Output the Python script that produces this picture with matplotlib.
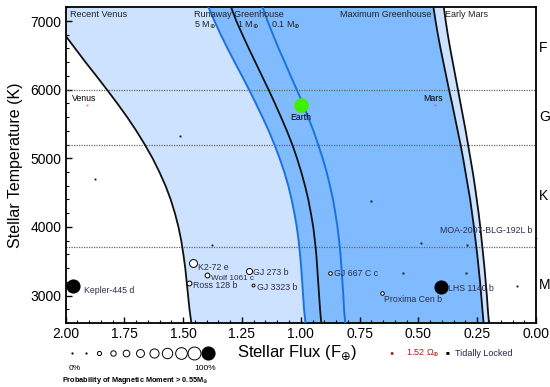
import numpy as np
import matplotlib
matplotlib.use('Agg')
import matplotlib.pyplot as plt
from matplotlib.ticker import MultipleLocator

plt.rcParams['font.family'] = ['Liberation Sans', 'DejaVu Sans']

# ---- habitable-zone boundaries: stellar flux (F_earth) vs stellar temperature (K)
temps = [2600, 2800, 3000, 3200, 3400, 3600, 3800, 4000, 4200, 4400, 4600, 4800,
         5000, 5200, 5400, 5600, 5800, 6000, 6200, 6400, 6600, 6800, 7000, 7200]
recent_venus = [1.465, 1.473, 1.479, 1.485, 1.491, 1.499, 1.508, 1.520, 1.535, 1.553, 1.575, 1.601,
                1.630, 1.663, 1.699, 1.738, 1.780, 1.824, 1.869, 1.915, 1.959, 2.003, 2.043, 2.080]
runaway_5 = [0.980, 0.986, 0.990, 0.994, 0.998, 1.003, 1.009, 1.017, 1.027, 1.039, 1.053, 1.070,
             1.090, 1.112, 1.136, 1.163, 1.191, 1.220, 1.250, 1.281, 1.311, 1.340, 1.367, 1.392]
runaway_1 = [0.913, 0.918, 0.922, 0.926, 0.930, 0.934, 0.940, 0.947, 0.957, 0.968, 0.982, 0.998,
             1.016, 1.036, 1.059, 1.084, 1.110, 1.137, 1.165, 1.193, 1.221, 1.248, 1.274, 1.296]
runaway_01 = [0.811, 0.816, 0.819, 0.823, 0.827, 0.831, 0.837, 0.844, 0.853, 0.863, 0.876, 0.890,
              0.907, 0.926, 0.946, 0.969, 0.992, 1.017, 1.043, 1.068, 1.094, 1.118, 1.141, 1.162]
max_greenhouse = [0.223, 0.228, 0.233, 0.238, 0.244, 0.250, 0.257, 0.264, 0.272, 0.280, 0.290, 0.300,
                  0.310, 0.321, 0.333, 0.345, 0.357, 0.370, 0.382, 0.394, 0.406, 0.417, 0.427, 0.436]
early_mars = [0.200, 0.205, 0.209, 0.214, 0.219, 0.225, 0.231, 0.237, 0.244, 0.252, 0.260, 0.269,
              0.279, 0.289, 0.299, 0.310, 0.321, 0.332, 0.343, 0.354, 0.365, 0.375, 0.384, 0.392]

# ---- spectral class boundaries
class_bounds = [6000, 5200, 3700]
class_names = ['F', 'G', 'K', 'M']
class_mid_T = [6600, 5600, 4450, 3150]

# ---- named exoplanets
planet_names = ['Kepler-445 d', 'K2-72 e', 'Wolf 1061 c', 'Ross 128 b', 'GJ 273 b', 'GJ 3323 b',
                'GJ 667 C c', 'Proxima Cen b', 'LHS 1140 b', 'MOA-2007-BLG-192L b']
planet_flux = [1.968, 1.459, 1.400, 1.474, 1.219, 1.204, 0.876, 0.656, 0.405, 0.0]
planet_temp = [3137, 3476, 3297, 3185, 3360, 3147, 3330, 3039, 3118, 3832]
planet_prob = [1.0, 0.5, 0.25, 0.25, 0.35, 0.1, 0.15, 0.15, 1.0, 0.0]

# ---- unlabelled (tidally locked) planets
other_flux = [1.513, 1.875, 1.379, 0.700, 0.490, 0.295, 0.564, 0.299, 0.080]
other_temp = [5324, 4697, 3730, 4380, 3768, 3730, 3330, 3330, 3141]

# ---- solar system
sol_names = ['Venus', 'Earth', 'Mars']
sol_flux = [1.91, 1.0, 0.43]
sol_temp = [5772, 5772, 5772]

legend_probs = [0.0, 0.1, 0.2, 0.3, 0.4, 0.5, 0.6, 0.7, 0.8, 0.9, 1.0]

LIGHT = '#cce2fe'
DARK = '#80bbff'
BLUE = '#1c72dc'
LABEL = '#2d2d4a'
FS = 6.3


def msize(p):
    return 1.2 + 9.0 * p


fig = plt.figure(figsize=(5.5, 3.87), dpi=100)
ax = fig.add_axes([0.1191, 0.1654, 0.8555, 0.8158])

ax.fill_betweenx(temps, recent_venus, early_mars, color=LIGHT, lw=0, zorder=1)
ax.fill_betweenx(temps, runaway_5, max_greenhouse, color=DARK, lw=0, zorder=1)

ax.plot(recent_venus, temps, color='#111111', lw=1.3, zorder=3)
ax.plot(runaway_1, temps, color='#111111', lw=1.3, zorder=3)
ax.plot(max_greenhouse, temps, color='#111111', lw=1.3, zorder=3)
ax.plot(early_mars, temps, color='#111111', lw=1.3, zorder=3)
ax.plot(runaway_5, temps, color=BLUE, lw=1.4, zorder=3)
ax.plot(runaway_01, temps, color=BLUE, lw=1.4, zorder=3)

for tb in class_bounds:
    ax.axhline(tb, color='#666666', lw=0.9, ls=(0, (1, 1)), zorder=2)

ax.set_xlim(2.0, 0.0)
ax.set_ylim(2600, 7200)

# spectral class letters on the right
for name, tm in zip(class_names, class_mid_T):
    ax.text(1.006, tm, name, transform=ax.get_yaxis_transform(), fontsize=10,
            ha='left', va='center')

# region labels
ax.text(1.98, 7090, 'Recent Venus', fontsize=6.6, ha='left', va='center', color='#222222')
ax.text(1.455, 7100, 'Runaway Greenhouse', fontsize=6.5, ha='left', va='center', color='#222222')
ax.text(1.455, 6945, '5 M$_{\\oplus}$', fontsize=6.5, ha='left', va='center', color='#222222')
ax.text(1.272, 6945, '1 M$_{\\oplus}$', fontsize=6.5, ha='left', va='center', color='#222222')
ax.text(1.128, 6945, '0.1 M$_{\\oplus}$', fontsize=6.5, ha='left', va='center', color='#222222')
ax.text(0.443, 7090, 'Maximum Greenhouse', fontsize=6.5, ha='right', va='center', color='#222222')
ax.text(0.387, 7090, 'Early Mars', fontsize=6.5, ha='left', va='center', color='#222222')

# solar system
ax.plot(sol_flux[0], sol_temp[0], 'o', ms=1.5, color='#ff77bb', mec='none', zorder=5)
ax.plot(sol_flux[2], sol_temp[2], 'o', ms=1.5, color='#b060ff', mec='none', zorder=5)
ax.plot(sol_flux[1], sol_temp[1], 'o', ms=10.5, color='#3cf000', mec='none', zorder=5)
ax.text(sol_flux[0] + 0.062, 5866, sol_names[0], fontsize=FS, ha='left', va='center')
ax.text(sol_flux[2] + 0.05, 5866, sol_names[2], fontsize=FS, ha='left', va='center')
ax.text(sol_flux[1], 5600, sol_names[1], fontsize=FS, ha='center', va='center')

# tidally locked unlabelled planets
ax.plot(other_flux, other_temp, 's', ms=1.3, color='black', mec='none', zorder=5)

# named planets
label_offsets = [(8, -3), (3.5, -3), (3.4, -2.6), (3, -2), (2.5, -1.0), (3, -1.8),
                 (3.2, -0.5), (1.7, -4.8), (5.5, -1), (-2.7, 5.5)]
for n, fx, tt, p, off in zip(planet_names, planet_flux, planet_temp, planet_prob, label_offsets):
    if p >= 1.0 or p <= 0.05:
        ax.plot(fx, tt, 'o', ms=msize(p), color='black', mec='none', zorder=6, clip_on=False)
    else:
        ax.plot(fx, tt, 'o', ms=msize(p), mfc='white', mec='black', mew=0.7, zorder=6)
    ax.annotate(n, (fx, tt), xytext=off, textcoords='offset points',
                fontsize=5.9 if n == 'Wolf 1061 c' else FS,
                color=LABEL, ha='right' if off[0] < 0 else 'left', va='center', zorder=7)

# axes styling
ax.xaxis.set_major_locator(MultipleLocator(0.25))
ax.xaxis.set_minor_locator(MultipleLocator(0.05))
ax.yaxis.set_major_locator(MultipleLocator(1000))
ax.yaxis.set_minor_locator(MultipleLocator(200))
ax.xaxis.set_major_formatter(plt.FuncFormatter(lambda v, pos: '%.2f' % v))
ax.tick_params(axis='both', which='both', direction='in', top=False, right=False,
               labelsize=10, pad=3)
ax.tick_params(which='major', length=4, width=1)
ax.tick_params(which='minor', length=2.5, width=0.8)
for s in ax.spines.values():
    s.set_linewidth(1.3)

ax.set_xlabel('Stellar Flux (F$_{\\oplus}$)', fontsize=12)
ax.xaxis.set_label_coords(0.492, -0.095)
ax.xaxis.label.set_va('center')
ax.set_ylabel('Stellar Temperature (K)', fontsize=11.5)
ax.yaxis.set_label_coords(-0.107, 0.5)
ax.yaxis.label.set_va('center')

# size legend
lax = fig.add_axes([72 / 550, 1 - 360 / 387, 136 / 550, 14 / 387])
lax.set_xlim(0, 1)
lax.set_ylim(-1, 1)
lax.axis('off')
for p in legend_probs:
    if p >= 1.0 or p <= 0.1:
        lax.plot(p, 0, 'o', ms=msize(p) if p >= 1 else 1.6, color='black', mec='none', clip_on=False)
    else:
        lax.plot(p, 0, 'o', ms=msize(p), mfc='white', mec='black', mew=0.7, clip_on=False)
fig.text(75 / 550, 1 - 368 / 387, '0%', fontsize=6, ha='center', va='center')
fig.text(205 / 550, 1 - 368 / 387, '100%', fontsize=6, ha='center', va='center')
fig.text(62 / 550, 1 - 380 / 387, 'Probability of Magnetic Moment > 0.55M$_{\\oplus}$',
         fontsize=5.3, fontweight='bold', ha='left', va='center')

# other legend entries
fig.text(392 / 550, 1 - 353.5 / 387, '\u25cf', fontsize=5, color='#b01818', ha='center', va='center')
fig.text(406 / 550, 1 - 353 / 387, '1.52 \u03a9$_{\\oplus}$', fontsize=6.5, color='#b01818',
         ha='left', va='center')
fig.text(447 / 550, 1 - 353 / 387, '\u25a0', fontsize=4.5, color='black', ha='center', va='center')
fig.text(455 / 550, 1 - 353 / 387, 'Tidally Locked', fontsize=6.5, color='#222244',
         ha='left', va='center')

fig.savefig('out.png', dpi=100)
